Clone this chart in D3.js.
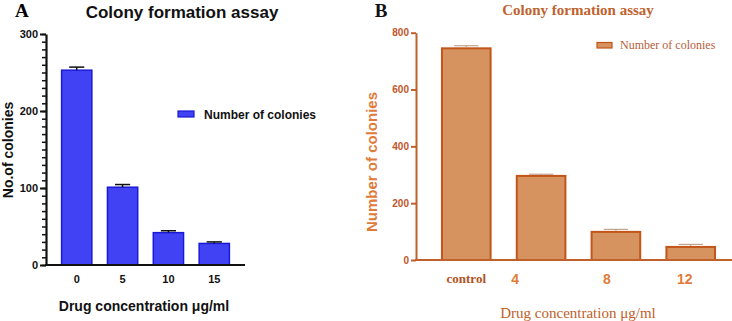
<!DOCTYPE html>
<html>
<head>
<meta charset="utf-8">
<script src="https://cdn.jsdelivr.net/npm/d3@7"></script>
<style>
  body { margin: 0; background: #fff; }
  svg { display: block; }
</style>
</head>
<body>
<div id="chart-area"></div>
<script>
// panel A data
var concA = ["0", "5", "10", "15"];
var coloniesA = [253, 101, 42, 28];
var errA = [4, 3.5, 2.5, 2];
var ticksA = [0, 100, 200, 300];

// panel B data
var concB = ["control", "4", "8", "12"];
var coloniesB = [745, 296, 99, 46];
var errB = [9, 6, 9, 9];
var ticksB = [0, 200, 400, 600, 800];

var svg = d3.select("#chart-area").append("svg")
    .attr("width", 732)
    .attr("height", 321);

var sans = "'Liberation Sans', Arial, sans-serif";
var serif = "'Liberation Serif', 'Times New Roman', serif";

/* ---------------- Panel A ---------------- */
var gA = svg.append("g");

var xA = d3.scaleBand().domain(concA).range([46, 245]).paddingInner(0.34).paddingOuter(0.34);
var yA = d3.scaleLinear().domain([0, 300]).range([265, 34]);

// minor ticks every 10
gA.append("g")
    .attr("transform", "translate(46,0)")
    .call(d3.axisLeft(yA).tickValues(d3.range(0, 301, 10)).tickSize(4).tickFormat(""))
    .call(g => g.select(".domain").remove())
    .selectAll("line").attr("stroke", "#111").attr("stroke-width", 1.5);

var yAxisA = gA.append("g")
    .attr("transform", "translate(46,0)")
    .call(d3.axisLeft(yA).tickValues(ticksA).tickSize(6).tickSizeOuter(0));
yAxisA.select(".domain").attr("stroke", "#111").attr("stroke-width", 2.2);
yAxisA.selectAll("line").attr("stroke", "#111").attr("stroke-width", 2);
yAxisA.selectAll("text")
    .attr("font-family", sans).attr("font-size", "11px").attr("font-weight", "bold").attr("fill", "#111")
    .attr("x", -8);

// bars
gA.selectAll("rect.barA").data(coloniesA).enter().append("rect")
    .attr("class", "barA")
    .attr("x", (d, i) => xA(concA[i]))
    .attr("y", d => yA(d))
    .attr("width", xA.bandwidth())
    .attr("height", d => yA(0) - yA(d))
    .attr("fill", "#4242f5")
    .attr("stroke", "#1a1ad6")
    .attr("stroke-width", 1.5);

// error bars
coloniesA.forEach(function(d, i) {
    var cx = xA(concA[i]) + xA.bandwidth() / 2;
    var capW = xA.bandwidth() / 4;
    gA.append("line").attr("x1", cx).attr("x2", cx).attr("y1", yA(d)).attr("y2", yA(d + errA[i]))
        .attr("stroke", "#111").attr("stroke-width", 1.5);
    gA.append("line").attr("x1", cx - capW).attr("x2", cx + capW).attr("y1", yA(d + errA[i])).attr("y2", yA(d + errA[i]))
        .attr("stroke", "#111").attr("stroke-width", 1.5);
});

// x axis
var xAxisA = gA.append("g")
    .attr("transform", "translate(0," + yA(0) + ")")
    .call(d3.axisBottom(xA).tickSize(0));
xAxisA.select(".domain").attr("d", "M45,0H245").attr("stroke", "#111").attr("stroke-width", 2.2);
xAxisA.selectAll("text")
    .attr("font-family", sans).attr("font-size", "11px").attr("font-weight", "bold").attr("fill", "#111")
    .attr("y", 10);

// titles
gA.append("text").attr("x", 15).attr("y", 17)
    .attr("font-family", serif).attr("font-size", "19px").attr("font-weight", "bold").text("A");
gA.append("text").attr("x", 182).attr("y", 18).attr("text-anchor", "middle")
    .attr("font-family", sans).attr("font-size", "17px").attr("font-weight", "bold").attr("fill", "#111")
    .text("Colony formation assay");
gA.append("text").attr("x", 144).attr("y", 311).attr("text-anchor", "middle")
    .attr("font-family", sans).attr("font-size", "14px").attr("font-weight", "bold").attr("fill", "#111")
    .text("Drug concentration μg/ml");
gA.append("text").attr("transform", "translate(13,150) rotate(-90)").attr("text-anchor", "middle")
    .attr("font-family", sans).attr("font-size", "14px").attr("font-weight", "bold").attr("fill", "#111")
    .text("No.of colonies");

// legend
gA.append("rect").attr("x", 178).attr("y", 111).attr("width", 16).attr("height", 6)
    .attr("fill", "#4242f5").attr("stroke", "#1a1ad6").attr("stroke-width", 1.2);
gA.append("text").attr("x", 204).attr("y", 118.5)
    .attr("font-family", sans).attr("font-size", "12px").attr("font-weight", "bold").attr("fill", "#111")
    .text("Number of colonies");

/* ---------------- Panel B ---------------- */
var gB = svg.append("g");
var axisCol = "#c0602a";

var xB = d3.scaleBand().domain(concB).range([416, 741]).paddingInner(0.35).paddingOuter(0.347);
var yB = d3.scaleLinear().domain([0, 800]).range([260, 32.7]);

var yAxisB = gB.append("g")
    .attr("transform", "translate(416,0)")
    .call(d3.axisLeft(yB).tickValues(ticksB).tickSize(5).tickSizeOuter(0));
yAxisB.select(".domain").attr("stroke", axisCol).attr("stroke-width", 2);
yAxisB.selectAll("line").attr("stroke", axisCol).attr("stroke-width", 2);
yAxisB.selectAll("text")
    .attr("font-family", sans).attr("font-size", "10px").attr("font-weight", "bold").attr("fill", "#c0562a")
    .attr("x", -7);

gB.selectAll("rect.barB").data(coloniesB).enter().append("rect")
    .attr("class", "barB")
    .attr("x", (d, i) => xB(concB[i]))
    .attr("y", d => yB(d))
    .attr("width", xB.bandwidth())
    .attr("height", d => yB(0) - yB(d))
    .attr("fill", "#d6925f")
    .attr("stroke", "#c2561a")
    .attr("stroke-width", 2);

coloniesB.forEach(function(d, i) {
    var cx = xB(concB[i]) + xB.bandwidth() / 2;
    var capW = xB.bandwidth() / 4;
    gB.append("line").attr("x1", cx).attr("x2", cx).attr("y1", yB(d) - 1).attr("y2", yB(d + errB[i]))
        .attr("stroke", "#b8927a").attr("stroke-width", 1);
    gB.append("line").attr("x1", cx - capW).attr("x2", cx + capW).attr("y1", yB(d + errB[i])).attr("y2", yB(d + errB[i]))
        .attr("stroke", "#b8927a").attr("stroke-width", 1);
});

var xAxisB = gB.append("g")
    .attr("transform", "translate(0," + yB(0) + ")")
    .call(d3.axisBottom(xB).tickSize(0));
xAxisB.select(".domain").attr("d", "M415,0H732").attr("stroke", axisCol).attr("stroke-width", 2);
var labelShift = [0, -26, -9, -6];
xAxisB.selectAll("text")
    .attr("dx", (d, i) => labelShift[i])
    .attr("y", 14)
    .attr("font-weight", "bold")
    .attr("font-family", d => d === "control" ? serif : sans)
    .attr("font-size", d => d === "control" ? "13px" : "14px")
    .attr("fill", d => d === "control" ? "#b3521f" : "#e07b3a");

gB.append("text").attr("x", 381).attr("y", 17).attr("text-anchor", "middle")
    .attr("font-family", serif).attr("font-size", "19px").attr("font-weight", "bold").attr("fill", "#111").text("B");
gB.append("text").attr("x", 578).attr("y", 15).attr("text-anchor", "middle")
    .attr("font-family", serif).attr("font-size", "15px").attr("font-weight", "bold").attr("fill", "#c0622e")
    .text("Colony formation assay");
gB.append("text").attr("x", 578).attr("y", 318).attr("text-anchor", "middle")
    .attr("font-family", serif).attr("font-size", "15px").attr("fill", "#c0602a")
    .text("Drug concentration μg/ml");
gB.append("text").attr("transform", "translate(377,162) rotate(-90)").attr("text-anchor", "middle")
    .attr("font-family", sans).attr("font-size", "15px").attr("font-weight", "bold").attr("fill", "#e07b3a")
    .text("Number of colonies");

gB.append("rect").attr("x", 597).attr("y", 42.5).attr("width", 15).attr("height", 5.5)
    .attr("fill", "#d6925f").attr("stroke", "#c2561a").attr("stroke-width", 1.2);
gB.append("text").attr("x", 620).attr("y", 49)
    .attr("font-family", serif).attr("font-size", "12px").attr("fill", "#b5603a")
    .text("Number of colonies");
</script>
</body>
</html>
